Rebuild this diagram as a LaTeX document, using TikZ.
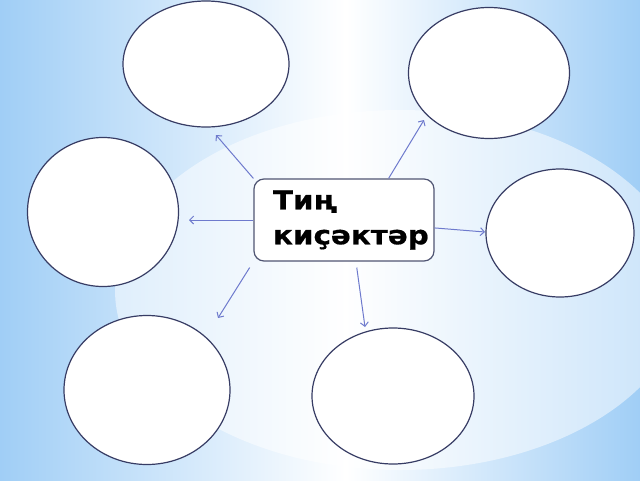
\documentclass[tikz,border=0pt]{standalone}
\usepackage{fontspec}
\usepackage{tikz}
\usetikzlibrary{shapes.geometric,arrows.meta}
\newfontfamily\bashfont{DejaVu Sans}[FakeStretch=1.13, FakeBold=0.6]

\definecolor{bgblue}{RGB}{160,206,246}
\definecolor{rim}{RGB}{55,60,100}
\definecolor{boxrim}{RGB}{80,85,115}
\definecolor{arrowblue}{RGB}{110,122,205}
\pgfdeclarehorizontalshading{skyband}{100bp}{color(0bp)=(bgblue); color(25bp)=(bgblue); color(52bp)=(white); color(75bp)=(bgblue); color(100bp)=(bgblue)}

\begin{document}
\begin{tikzpicture}[x=1pt, y=-1pt,
        bubble/.style={ellipse, draw=rim, line width=1.2pt, fill=white, inner sep=0pt},
        link/.style={-{Straight Barb[length=4pt, width=8pt]}, arrowblue, line width=1pt}]
        % Background
        \useasboundingbox (0,0) rectangle (640,480);
        \begin{scope}
            \clip (0,0) rectangle (640,480);
            \shade[shading=skyband] (0,0) rectangle (640,480);
            \fill[white, fill opacity=0.5] (400,290) ellipse (285 and 180);
        \end{scope}

        % Centre
        \node (topic) [rectangle, rounded corners=10pt, draw=boxrim, line width=1.2pt, fill=white, text width=164pt, inner xsep=8pt, minimum height=82pt, align=left, font=\bashfont\bfseries\fontsize{26}{35}\selectfont] at (344,220) {\hspace*{11pt}Тиң\\\hspace*{11pt}киҫәктәр};

        % Bubbles
        \node (o1) [bubble, minimum width=166pt, minimum height=126pt] at (206,64) {};
        \node (o2) [bubble, minimum width=161pt, minimum height=131pt] at (489,73) {};
        \node (o3) [bubble, minimum width=151pt, minimum height=149pt] at (103,212) {};
        \node (o4) [bubble, minimum width=148pt, minimum height=128pt] at (560,233) {};
        \node (o5) [bubble, minimum width=166pt, minimum height=149pt] at (147,390) {};
        \node (o6) [bubble, minimum width=162pt, minimum height=136pt] at (393,396) {};

        % Arrow tips
        \coordinate (t1) at (216,135);
        \coordinate (t2) at (424,120);
        \coordinate (t3) at (189,220);
        \coordinate (t4) at (485,232);
        \coordinate (t5) at (218,318);
        \coordinate (t6) at (365,327);

        % Connections
        \draw[link] (topic.north west) -- (t1);
        \draw[link] (topic.43) -- (t2);
        \draw[link] (topic.west) -- (t3);
        \draw[link] (topic.-5) -- (t4);
        \draw[link, shorten <=7pt] (topic.south west) -- (t5);
        \draw[link, shorten <=6pt] (topic.-74) -- (t6);
\end{tikzpicture}
\end{document}
